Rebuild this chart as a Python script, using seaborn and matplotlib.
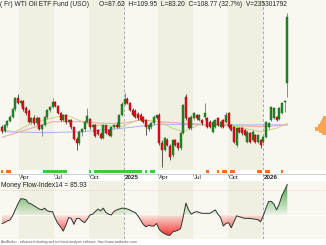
import datetime as dt
import numpy as np
import pandas as pd
import matplotlib
matplotlib.use("Agg")
import matplotlib.pyplot as plt
from matplotlib.path import Path
import seaborn as sns

# ---------------- data ----------------
start_date = dt.date(2024, 2, 16)          # first weekly bar (Friday)
opens = [73.6, 72.1, 74.2, 75.5, 76.8, 79.2, 82.7, 81.3, 81.8, 79.6,
         78.8, 75.2, 76.3, 74.7, 76.4, 72.8, 74.2, 76.6, 78.9, 80.0,
         81.6, 80.4, 78.0, 75.9, 77.4, 75.0, 75.8, 73.4, 69.6, 68.3,
         72.0, 72.8, 75.2, 76.0, 73.4, 74.2, 72.6, 71.4, 70.0, 74.0,
         72.6, 70.6, 73.6, 74.2, 73.6, 77.4, 81.0, 82.6, 81.2, 79.0,
         78.6, 77.8, 77.4, 76.6, 75.8, 72.8, 73.4, 74.7, 76.5, 77.3,
         68.3, 66.2, 69.4, 67.5, 64.5, 69.2, 68.4, 66.7, 71.5, 83.2,
         76.3, 73.1, 76.3, 77.4, 75.8, 75.8, 76.6, 76.3, 75.2, 72.0,
         73.6, 76.3, 73.6, 75.8, 75.2, 77.9, 74.2, 73.6, 67.6, 73.1,
         73.1, 72.6, 68.8, 71.5, 69.4, 71.0, 68.8, 69.4, 68.8, 70.4,
         73.5, 75.7, 76.4, 76.7, 76.0, 78.0, 81.5, 87.62]
highs = [74.2, 74.6, 75.9, 77.2, 79.6, 83.2, 84.0, 82.3, 82.1, 80.3,
         79.4, 76.6, 77.2, 76.9, 76.8, 74.6, 76.9, 79.2, 80.4, 82.7,
         82.0, 80.7, 78.4, 77.8, 77.6, 76.2, 76.0, 73.6, 70.4, 72.4,
         73.2, 75.6, 79.5, 76.4, 74.5, 74.6, 73.0, 71.8, 74.4, 74.2,
         73.0, 73.9, 74.6, 75.0, 77.8, 81.4, 84.4, 83.0, 81.6, 79.6,
         79.2, 78.4, 77.9, 77.0, 76.2, 74.5, 75.0, 77.2, 77.5, 77.9,
         69.4, 70.3, 70.0, 68.0, 69.8, 69.6, 68.8, 71.9, 81.0, 84.0,
         76.6, 77.2, 78.3, 77.8, 77.8, 76.2, 81.1, 76.7, 75.6, 75.6,
         76.2, 76.7, 75.6, 76.2, 78.4, 78.3, 74.6, 73.9, 73.6, 73.5,
         73.5, 73.0, 72.4, 71.9, 72.4, 71.4, 71.4, 69.8, 70.8, 75.4,
         75.0, 80.2, 79.9, 77.0, 80.0, 81.6, 82.2, 109.95]
lows = [71.6, 71.8, 73.5, 75.0, 76.4, 78.8, 80.9, 80.3, 78.8, 77.5,
        74.8, 74.4, 74.3, 74.2, 72.4, 70.6, 73.8, 76.1, 78.3, 79.6,
        79.9, 77.6, 75.4, 75.5, 74.6, 74.5, 73.0, 69.2, 66.2, 67.9,
        70.6, 72.3, 74.8, 73.0, 72.0, 70.2, 70.8, 69.6, 69.8, 71.2,
        70.6, 70.2, 72.9, 73.3, 73.2, 77.0, 80.6, 80.8, 78.6, 77.0,
        76.4, 75.9, 75.4, 74.8, 71.0, 72.3, 73.0, 74.3, 76.0, 67.8,
        60.8, 65.8, 67.4, 62.8, 64.0, 67.4, 66.3, 66.3, 71.2, 75.9,
        72.8, 72.7, 75.9, 75.9, 75.4, 74.3, 75.8, 73.2, 73.2, 71.6,
        73.2, 73.8, 73.2, 73.2, 74.8, 73.2, 72.2, 68.3, 67.2, 71.6,
        71.0, 70.6, 68.4, 68.4, 69.0, 68.4, 68.4, 66.7, 68.4, 70.0,
        73.0, 75.3, 76.0, 75.4, 75.6, 77.6, 78.4, 83.20]
closes = [72.1, 74.2, 75.5, 76.8, 79.2, 82.7, 81.3, 81.8, 79.2, 77.9,
          75.2, 76.3, 74.7, 76.4, 72.8, 74.2, 76.6, 78.9, 80.0, 81.6,
          80.4, 78.0, 75.9, 77.4, 75.0, 75.8, 73.4, 69.6, 68.3, 72.0,
          72.8, 75.2, 76.9, 73.4, 74.2, 70.6, 71.4, 70.0, 74.0, 71.6,
          71.0, 73.6, 74.2, 73.6, 77.4, 81.0, 82.6, 81.2, 79.0, 77.4,
          76.8, 76.3, 75.8, 75.2, 73.6, 74.2, 74.7, 76.8, 77.3, 68.3,
          66.2, 69.9, 67.8, 63.8, 69.4, 67.8, 66.7, 71.5, 80.6, 76.3,
          73.1, 76.8, 77.9, 76.3, 77.4, 74.7, 77.9, 73.6, 73.6, 75.2,
          75.8, 74.2, 75.2, 73.6, 77.4, 73.6, 72.6, 68.8, 73.1, 72.0,
          71.5, 71.0, 72.0, 68.8, 72.0, 68.8, 71.0, 67.8, 70.4, 75.2,
          74.8, 79.9, 79.6, 75.7, 79.6, 81.2, 82.0, 108.77]

# moving averages (key points: week index, price)
ma_long_x = [0, 16, 30, 45, 59, 70, 85, 107]
ma_long_y = [72.0, 71.7, 72.0, 73.1, 74.4, 74.3, 74.2, 74.2]
ma_mid_x = [0, 9, 19, 31, 37, 45, 53, 59, 73, 85, 98, 107]
ma_mid_y = [70.2, 72.6, 75.2, 75.2, 74.7, 74.7, 75.8, 75.2, 74.5, 74.0, 73.6, 74.2]
ma_short_x = [0, 5, 12, 24, 33, 40, 45, 51, 59, 64, 68, 74, 85, 91, 97, 103, 107]
ma_short_y = [72.5, 72.0, 75.0, 77.4, 74.2, 73.9, 73.6, 75.8, 75.2, 73.1, 72.0, 74.2,
              74.2, 73.1, 72.0, 73.1, 74.7]

# Money Flow Index (14)
mfi = [40, 41, 43, 44, 49, 56, 63, 69, 69, 68,
       64, 63, 61, 59, 57, 56, 58, 55, 54, 54,
       46, 40, 36, 31, 38, 47, 46, 39, 46, 46,
       43, 41, 45, 50, 51, 54, 57, 55, 58, 53,
       51, 50, 54, 56, 57, 58, 58, 57, 56, 54,
       53, 49, 44, 39, 36, 38, 37, 37, 40, 33,
       30, 28, 26.5, 26, 30, 31, 32, 34, 48, 64,
       56, 51, 53, 54, 53, 52, 52, 52, 52, 54,
       56, 51, 47, 37, 40, 41, 35, 42, 49, 48,
       47, 46, 46, 46, 45.5, 45, 44.5, 42, 49, 58,
       66, 66, 63, 56, 63, 73, 79, 85.93]

# signal strip: 1 = green, -1 = orange, 0 = none
signal = [-1, 0, -1, -1, 0, 0, 0, 0, 0, 0,
          0, 0, 0, 0, 0, 0, 1, 1, 1, 1,
          1, 1, 1, 1, 1, 0, 0, 0, 0, 0,
          0, 0, 0, 1, 0, 1, 1, 1, 1, 1,
          1, 1, 1, 1, 1, 1, 1, 1, 1, 1,
          1, 1, 1, 0, 1, 0, 1, 1, 0, 0,
          0, 0, 0, 0, 0, 0, 0, 0, 0, 0,
          0, 0, 0, 0, 0, 0, 0, -1, 0, 0,
          0, -1, 0, -1, -1, 0, -1, -1, 0, 0,
          0, 0, 0, 0, 0, 0, -1, -1, 0, -1,
          -1, 0, 0, 0, 0, -1, 0, 0]

# volume-at-price profile (price level, relative length)
vap_price = [76.8, 76.1, 75.4, 74.7, 74.0, 73.3, 72.6, 71.9, 71.3]
vap_len = [3, 4, 5, 6, 8, 11, 11, 7, 4]

quarter_labels = ["Apr", "Jul", "Oct", "2025", "Apr", "Jul", "Oct", "2026"]
quarter_dates = ["2024-04-01", "2024-07-01", "2024-10-01", "2025-01-01",
                 "2025-04-01", "2025-07-01", "2025-10-01", "2026-01-01"]

title_name = "( Fr) WTI Oil ETF Fund (USO)"
title_vals = "O=87.62  H=109.95  L=83.20  C=108.77 (32.7%)  V=235301792"
mfi_title = "Money Flow-Index14 = 85.93"
footer = "AmiBroker - advanced charting and technical analysis software. http://www.amibroker.com"

# ---------------- layout ----------------
sns.set_theme(style="white")
plt.rcParams['font.family'] = ['Liberation Sans', 'DejaVu Sans']

W, H = 326, 245
PX = 2.667      # pixels per week
X0 = 1.9        # pixel of first bar
fig = plt.figure(figsize=(W / 100, H / 100), dpi=100)
fig.patch.set_facecolor("white")

def add_ax(top, bottom):
    a = fig.add_axes([0, 1 - bottom / H, 1, (bottom - top) / H])
    a.set_xlim(-X0 / PX, (W - X0) / PX)
    a.set_axis_off()
    return a

def widx(d):
    d = pd.Timestamp(d).date()
    return (d - start_date).days / 7.0

ax = add_ax(0, 169.5)
ax_sig = add_ax(169.5, 174)
ax_date = add_ax(174, 181)
ax_mfi = add_ax(181, 239)

ax.set_ylim(108.77 - 152.5 / 3.12, 108.77 + 17 / 3.12)
ax_mfi.set_ylim(50 - 24 / 0.85, 50 + 34 / 0.85)
ax_sig.set_ylim(0, 1)
ax_date.set_ylim(0, 1)

n = len(closes)
idx = np.arange(n)
df = pd.DataFrame({"i": idx, "open": opens, "high": highs, "low": lows,
                   "close": closes, "mfi": mfi, "signal": signal})

# background quarter bands
q_edges = ["2024-01-01"] + quarter_dates + ["2026-04-01"]
LIGHT, DARK = "#f8f8f1", "#efefe2"
for k in range(len(q_edges) - 1):
    x1, x2 = widx(q_edges[k]), widx(q_edges[k + 1])
    col = LIGHT if k % 2 == 0 else DARK
    for a in (ax, ax_mfi):
        a.axvspan(x1, x2, color=col, lw=0, zorder=0)
for a in (ax, ax_mfi):
    a.axvspan(widx("2026-04-01"), 200, color=LIGHT, lw=0, zorder=0)

# year separators
for d in ["2025-01-01", "2026-01-01"]:
    for a in (ax, ax_sig, ax_date, ax_mfi):
        a.axvline(widx(d), color="#aaaaaa", lw=0.7, ls=(0, (3, 2)), zorder=1)

# moving averages
sns.lineplot(x=ma_long_x, y=ma_long_y, ax=ax, color="#a9b0ec", lw=0.7, zorder=2)
sns.lineplot(x=ma_mid_x, y=ma_mid_y, ax=ax, color="#eaa3a3", lw=0.7, zorder=2)
sns.lineplot(x=ma_short_x, y=ma_short_y, ax=ax, color="#cfcf86", lw=0.7, zorder=2)

# candles
up = df["close"] >= df["open"]
GREEN, RED = "#1b8f1b", "#e3101a"
ax.vlines(df["i"][up], df["low"][up], df["high"][up], color="#8a8a8a", lw=0.7, zorder=3)
ax.vlines(df["i"][~up], df["low"][~up], df["high"][~up], color="#555555", lw=0.7, zorder=3)
body_lo = np.minimum(df["open"], df["close"])
body_h = np.maximum(np.abs(df["close"] - df["open"]), 0.25)
ax.bar(df["i"][up], body_h[up], bottom=body_lo[up], width=0.7, color=GREEN,
       edgecolor="#1a5e1a", lw=0.3, zorder=4)
ax.bar(df["i"][~up], body_h[~up], bottom=body_lo[~up], width=0.7, color=RED,
       edgecolor="#a00000", lw=0.3, zorder=4)

# volume-at-price (right edge)
xr = (W - X0) / PX
ax.barh(vap_price, [v / PX for v in vap_len], left=[xr - v / PX for v in vap_len],
        height=0.7, color="#ffa54f", lw=0, zorder=2)

# titles
ax.text(0.5 / W, 1 - 4.5 / 169.5, title_name, transform=ax.transAxes, fontsize=4.75,
        color="#222222", va="center", ha="left", zorder=6)
ax.text(99 / W, 1 - 4.5 / 169.5, title_vals, transform=ax.transAxes, fontsize=4.75,
        color="#222222", va="center", ha="left", zorder=6)

# signal strip
ax_sig.axvspan(-1, n - 0.3, color="white", lw=0)
for val, col in [(1, "#3ccb3c"), (-1, "#ff6a1f")]:
    sel = df["signal"] == val
    ax_sig.bar(df["i"][sel], 0.7, bottom=0.15, width=1.0, color=col, lw=0, zorder=2)

# date axis row
ax_date.axvspan(-5, 200, color="white", lw=0, zorder=0)
ax_date.axhline(1, color="#c8c8c8", lw=0.6)
ax_date.axhline(0.02, color="#9a9a9a", lw=0.6)
for lab, d in zip(quarter_labels, quarter_dates):
    xq = widx(d)
    ax_date.vlines(xq, 0.7, 1, color="#777777", lw=0.5)
    ax_date.text(xq + 0.35, 0.45, lab, fontsize=4.5, color="#222222", va="center",
                 ha="left", fontweight="bold" if lab.isdigit() else "normal")

# MFI panel
x = df["i"].to_numpy(dtype=float)
y = df["mfi"].to_numpy(dtype=float)

def grad_fill(axis, cond, col, y0, y1, a0, a1):
    poly = axis.fill_between(x, y, 50, where=cond, interpolate=True, color="none", lw=0)
    paths = poly.get_paths()
    if not paths:
        return
    rgba = np.zeros((100, 1, 4))
    rgba[:, 0, :3] = matplotlib.colors.to_rgb(col)
    rgba[:, 0, 3] = np.linspace(a0, a1, 100)
    im = axis.imshow(rgba, extent=[x.min(), x.max(), y0, y1], origin="lower",
                     aspect="auto", zorder=2, interpolation="bilinear")
    im.set_clip_path(Path.make_compound_path(*paths), transform=axis.transData)

grad_fill(ax_mfi, y >= 50, "#2e9e2e", 50, 88, 0.05, 0.95)
grad_fill(ax_mfi, y <= 50, "#ff1a1a", 22, 50, 1.0, 0.08)
ax_mfi.axhline(80, color="#f0a0a0", lw=0.5, ls=(0, (1, 2)), zorder=1)
ax_mfi.axhline(50, color="#ffffff", lw=0.6, zorder=1)
sns.lineplot(data=df, x="i", y="mfi", ax=ax_mfi, color="#333333", lw=0.7, zorder=4)
ax_mfi.set_axis_off()
ax_mfi.text(1 / W, 1 - 4.5 / 58, mfi_title, transform=ax_mfi.transAxes, fontsize=4.75,
            color="#222222", va="center", ha="left", zorder=6)
for a in (ax, ax_mfi):
    a.set_axis_off()

fig.text(1 / W, 1 - 241.5 / H, footer, fontsize=2.4, color="#555555", va="center", ha="left")

fig.savefig("out.png", dpi=100, facecolor="white")
